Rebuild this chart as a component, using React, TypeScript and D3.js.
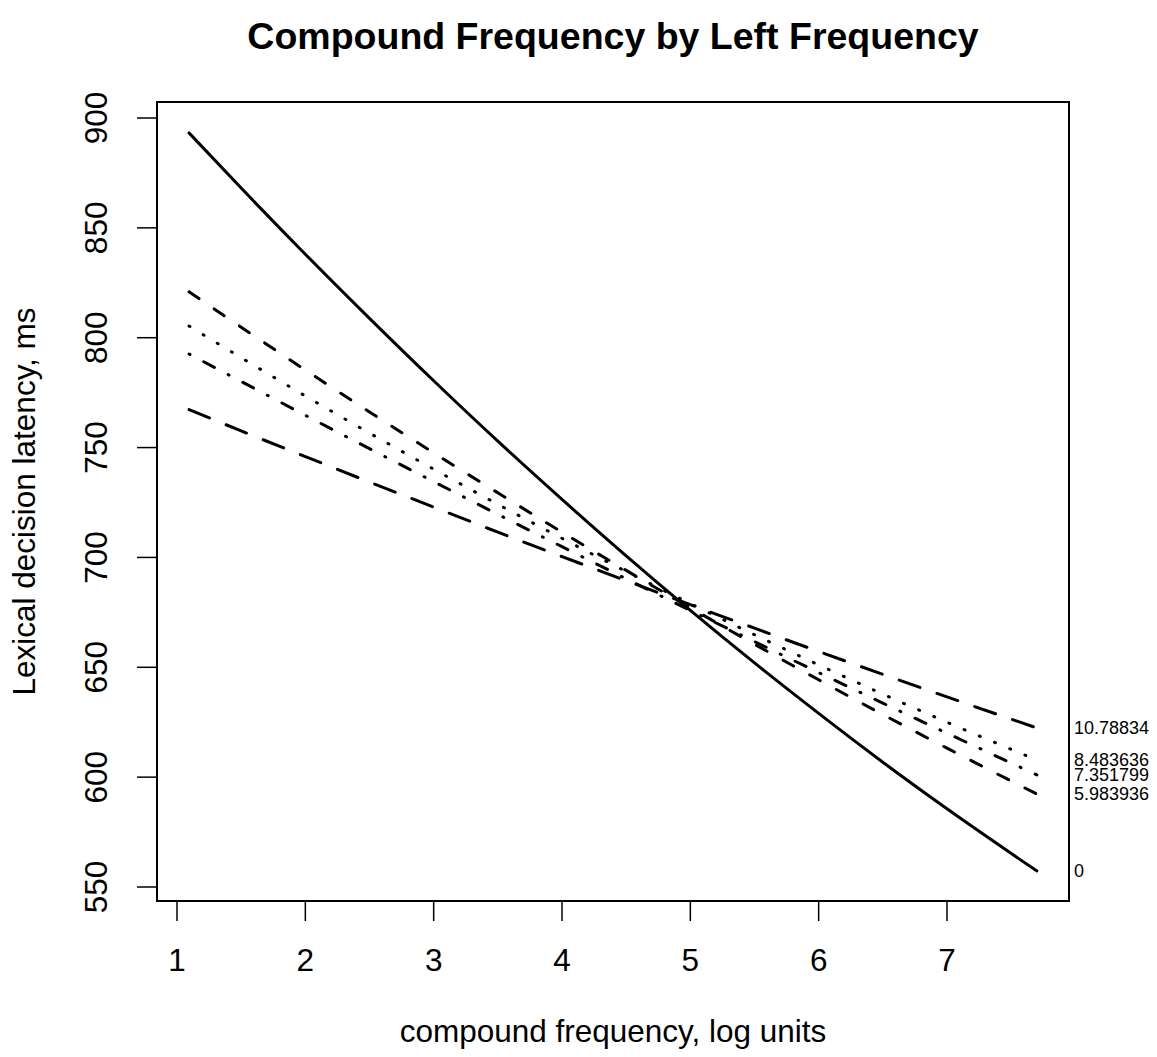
import React from "react";
import * as d3 from "d3";

// compound frequency (log units) sample positions
const compoundFreq = [1.094, 1.5, 2, 2.5, 3, 3.5, 4, 4.5, 5, 5.5, 6, 6.5, 7, 7.7];

// predicted latency for each left-frequency level
const leftFreq0 = [893.2, 868.1, 838.0, 808.8, 780.4, 752.9, 726.4, 700.7, 675.9, 652.0, 629.0, 606.8, 585.6, 557.3];
const leftFreq5983936 = [820.9, 804.8, 785.3, 766.2, 747.6, 729.4, 711.5, 694.1, 677.1, 660.5, 644.3, 628.5, 613.2, 592.3];
const leftFreq7351799 = [792.6, 780.1, 764.7, 749.5, 734.5, 719.6, 704.9, 690.3, 675.9, 661.7, 647.6, 633.7, 620.0, 601.0];
const leftFreq8483636 = [805.3, 790.9, 773.5, 756.6, 740.2, 724.2, 708.7, 693.6, 679.0, 664.8, 651.1, 637.8, 625.0, 607.8];
const leftFreq1078834 = [767.3, 757.6, 745.9, 734.3, 722.9, 711.5, 700.4, 689.4, 678.5, 667.8, 657.2, 646.8, 636.5, 622.4];

const seriesLabels = ["0", "5.983936", "7.351799", "8.483636", "10.78834"];
const seriesValues = [leftFreq0, leftFreq5983936, leftFreq7351799, leftFreq8483636, leftFreq1078834];
const seriesDash = ["none", "12,18.4", "1,15.6,12,15.6", "1,15.5", "22,18"];

const xTicks = [1, 2, 3, 4, 5, 6, 7];
const yTicks = [550, 600, 650, 700, 750, 800, 850, 900];

const titleText = "Compound Frequency by Left Frequency";
const xLabel = "compound frequency, log units";
const yLabel = "Lexical decision latency, ms";

export default function App() {
  const W = 1157;
  const H = 1057;
  const box = { left: 157, right: 1069, top: 102, bottom: 901 };
  const x = d3.scaleLinear().domain([1, 7]).range([177, 947]);
  const y = d3.scaleLinear().domain([550, 900]).range([887, 118]);
  const font = "'Liberation Sans', Arial, Helvetica, sans-serif";

  const line = d3
    .line<number>()
    .x((_, i) => x(compoundFreq[i]))
    .y((d) => y(d))
    .curve(d3.curveMonotoneX);

  return (
    <svg width={W} height={H} style={{ position: "absolute", left: 0, top: 0, background: "#fff" }}>
      <rect x={0} y={0} width={W} height={H} fill="#fff" />
      <text x={(box.left + box.right) / 2} y={49} textAnchor="middle" fontFamily={font} fontWeight="bold" fontSize={37.5}>
        {titleText}
      </text>
      {seriesValues.map((vals, i) => (
        <path
          key={seriesLabels[i]}
          d={line(vals) || ""}
          fill="none"
          stroke="#000"
          strokeWidth={3}
          strokeLinecap="round"
          strokeDasharray={seriesDash[i]}
        />
      ))}
      <rect x={box.left} y={box.top} width={box.right - box.left} height={box.bottom - box.top} fill="none" stroke="#000" strokeWidth={2} />
      {/* x axis */}
      <line x1={x(1)} x2={x(7)} y1={box.bottom} y2={box.bottom} stroke="#000" strokeWidth={2} />
      {xTicks.map((t) => (
        <g key={t}>
          <line x1={x(t)} x2={x(t)} y1={box.bottom} y2={box.bottom + 20} stroke="#000" strokeWidth={1.5} />
          <text x={x(t)} y={971} textAnchor="middle" fontFamily={font} fontSize={31.5}>
            {t}
          </text>
        </g>
      ))}
      {/* y axis */}
      <line x1={box.left} x2={box.left} y1={y(550)} y2={y(900)} stroke="#000" strokeWidth={2} />
      {yTicks.map((t) => (
        <g key={t}>
          <line x1={box.left - 20} x2={box.left} y1={y(t)} y2={y(t)} stroke="#000" strokeWidth={1.5} />
          <text
            transform={`translate(107,${y(t)}) rotate(-90)`}
            textAnchor="middle"
            fontFamily={font}
            fontSize={31.5}
          >
            {t}
          </text>
        </g>
      ))}
      <text x={(box.left + box.right) / 2} y={1042} textAnchor="middle" fontFamily={font} fontSize={31.5}>
        {xLabel}
      </text>
      <text transform={`translate(35,${(box.top + box.bottom) / 2}) rotate(-90)`} textAnchor="middle" fontFamily={font} fontSize={31.5}>
        {yLabel}
      </text>
      {seriesValues.map((vals, i) => (
        <text
          key={"lab" + i}
          x={1074}
          y={y(vals[vals.length - 1])}
          dy="0.35em"
          fontFamily={font}
          fontSize={18}
        >
          {seriesLabels[i]}
        </text>
      ))}
    </svg>
  );
}
